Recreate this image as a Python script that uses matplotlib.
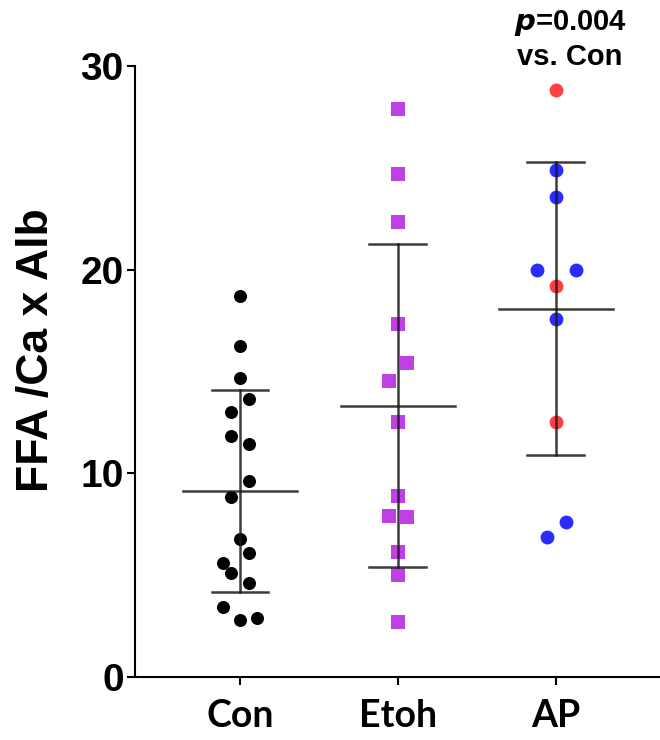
import matplotlib
matplotlib.use('Agg')
import matplotlib.pyplot as plt
import numpy as np

plt.rcParams['font.family'] = ['Liberation Sans', 'DejaVu Sans']
plt.rcParams['font.weight'] = 'bold'

# 数据
groups = ['Con', 'Etoh', 'AP']
con_vals = [18.70, 16.25, 14.66, 13.63, 13.02, 11.85, 11.44, 9.62, 8.82,
            6.76, 6.10, 5.58, 5.09, 4.63, 3.45, 2.80, 2.88]
etoh_vals = [27.87, 24.71, 22.33, 17.33, 15.41, 14.53, 12.51, 8.88, 7.92,
             7.88, 6.13, 5.03, 2.70]
ap_blue_vals = [24.87, 23.56, 19.96, 19.96, 17.56, 7.63, 6.87]
ap_red_vals = [28.82, 19.18, 12.51]
y_ticks = [0, 10, 20, 30]

# 散点的横向偏移（排版用）
con_dx = [0, 0, 0, 0.055, -0.06, -0.06, 0.055, 0.055, -0.06, 0, 0.055,
          -0.11, -0.06, 0.055, -0.11, 0, 0.11]
etoh_dx = [0, 0, 0, 0, 0.057, -0.057, 0, 0, -0.057, 0.057, 0, 0, 0]
ap_blue_dx = [0, 0, -0.12, 0.125, 0, 0.063, -0.057]
ap_red_dx = [0, 0, 0]

fig = plt.figure(figsize=(6.6, 7.4), dpi=100)
ax = fig.add_axes([0.2045, 0.0851, 0.7955, 0.8257])

ax.scatter(np.array(con_dx) + 0, con_vals, s=88, color='black', marker='o',
           linewidths=0, zorder=2)
ax.scatter(np.array(etoh_dx) + 1, etoh_vals, s=90, color='#BF40E6', marker='s',
           linewidths=0, zorder=2)
ax.scatter(np.array(ap_blue_dx) + 2, ap_blue_vals, s=100, color='#2B2BFF',
           marker='o', linewidths=0, zorder=2)
ax.scatter(np.array(ap_red_dx) + 2, ap_red_vals, s=100, color='#FF4040',
           marker='o', linewidths=0, zorder=2)

# 均值 ± SD
all_groups = [con_vals, etoh_vals, ap_blue_vals + ap_red_vals]
for i, vals in enumerate(all_groups):
    m = np.mean(vals)
    sd = np.std(vals, ddof=1)
    lc = '#1a1a1a'
    ax.plot([i, i], [m - sd, m + sd], color=lc, lw=1.8, alpha=0.85, zorder=3)
    ax.plot([i - 0.36, i + 0.36], [m, m], color=lc, lw=1.8, alpha=0.85, zorder=3)
    ax.plot([i - 0.18, i + 0.18], [m + sd, m + sd], color=lc, lw=1.8, alpha=0.85, zorder=3)
    ax.plot([i - 0.18, i + 0.18], [m - sd, m - sd], color=lc, lw=1.8, alpha=0.85, zorder=3)

ax.set_xlim(-0.665, 2.66)
ax.set_ylim(0, 30)
ax.set_yticks(y_ticks)
ax.set_xticks(range(len(groups)))
ax.set_xticklabels(groups, fontsize=27, fontweight='bold', family=['Lato', 'DejaVu Sans'])
ax.tick_params(axis='y', labelsize=28, length=6, width=1.5, pad=2)
ax.tick_params(axis='x', length=6, width=1.5, pad=10)

for side in ['top', 'right']:
    ax.spines[side].set_visible(False)
for side in ['left', 'bottom']:
    ax.spines[side].set_linewidth(1.5)

ax.set_ylabel('FFA /Ca x Alb', fontsize=32, fontweight='bold')
ax.yaxis.set_label_coords(-0.148, 0.535)

# 显著性标注
fig.text(570 / 660, 1 - 23 / 740, r'$\bf{\it{p}}$=0.004', fontsize=21,
         fontweight='bold', ha='center', va='center')
fig.text(570 / 660, 1 - 57 / 740, 'vs. Con', fontsize=21, fontweight='bold',
         ha='center', va='center')

plt.savefig('out.png', dpi=100)
